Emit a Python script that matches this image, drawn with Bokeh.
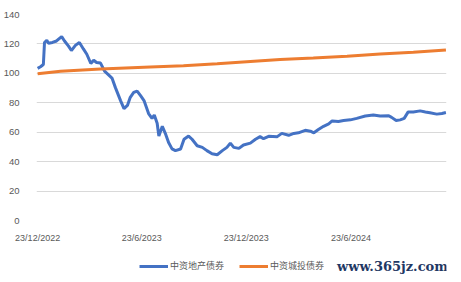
from datetime import datetime
from bokeh.plotting import figure
from bokeh.layouts import column
from bokeh.models import (ColumnDataSource, Range1d, FixedTicker, CustomJSTickFormatter,
                          Legend, LegendItem, Label)
from bokeh.embed import file_html
from bokeh.resources import INLINE

# ---- data ----
property_dates = [
    "2022-12-23", "2022-12-28", "2023-01-02", "2023-01-04", "2023-01-08", "2023-01-11",
    "2023-01-18", "2023-01-25", "2023-02-03", "2023-02-08", "2023-02-15", "2023-02-20",
    "2023-02-27", "2023-03-06", "2023-03-13", "2023-03-19", "2023-03-26", "2023-03-31",
    "2023-04-05", "2023-04-12", "2023-04-19", "2023-04-26", "2023-05-02", "2023-05-08",
    "2023-05-17", "2023-05-23", "2023-05-29", "2023-06-03", "2023-06-09", "2023-06-15",
    "2023-06-21", "2023-06-27", "2023-07-05", "2023-07-11", "2023-07-15", "2023-07-20",
    "2023-07-23", "2023-07-29", "2023-08-04", "2023-08-09", "2023-08-15", "2023-08-21",
    "2023-08-30", "2023-09-05", "2023-09-13", "2023-09-19", "2023-09-28", "2023-10-07",
    "2023-10-15", "2023-10-24", "2023-11-02", "2023-11-11", "2023-11-19", "2023-11-25",
    "2023-12-01", "2023-12-10", "2023-12-18", "2023-12-30", "2024-01-08", "2024-01-16",
    "2024-01-22", "2024-01-31", "2024-02-15", "2024-02-23", "2024-03-06", "2024-03-15",
    "2024-03-23", "2024-04-04", "2024-04-13", "2024-04-19", "2024-04-27", "2024-05-06",
    "2024-05-15", "2024-05-21", "2024-06-01", "2024-06-10", "2024-06-22", "2024-07-03",
    "2024-07-18", "2024-08-01", "2024-08-13", "2024-08-28", "2024-09-02", "2024-09-10",
    "2024-09-17", "2024-09-24", "2024-10-01", "2024-10-10", "2024-10-22", "2024-10-31",
    "2024-11-08", "2024-11-20", "2024-11-29", "2024-12-06",
]
property_values = [
    103.4, 104.5, 106.0, 121.0, 122.5, 120.5,
    121.0, 122.0, 125.0, 122.0, 118.5, 115.5,
    119.0, 121.0, 116.6, 113.0, 106.7, 108.9,
    107.4, 107.0, 101.5, 99.0, 96.8, 90.3,
    81.5, 76.0, 78.2, 83.7, 87.0, 88.0,
    84.8, 81.5, 72.7, 69.4, 71.7, 66.1,
    57.4, 64.0, 58.5, 53.0, 48.7, 47.5,
    48.6, 55.2, 57.4, 55.2, 50.8, 49.7,
    47.5, 45.4, 44.7, 47.5, 49.7, 52.6,
    49.7, 49.0, 51.3, 52.6, 55.2, 57.0,
    55.6, 57.2, 57.0, 59.2, 57.9, 59.2,
    59.6, 61.3, 60.7, 59.6, 61.8, 64.0,
    65.7, 67.7, 67.3, 67.9, 68.4, 69.4,
    71.0, 71.7, 71.0, 71.2, 70.1, 67.9,
    68.4, 69.4, 73.8, 73.8, 74.5, 73.8,
    73.2, 72.3, 72.7, 73.4,
]

lgfv_dates = [
    "2022-12-23", "2023-02-01", "2023-04-12", "2023-07-08", "2023-09-04", "2023-11-02",
    "2023-12-30", "2024-02-20", "2024-04-18", "2024-06-16", "2024-08-13", "2024-10-10",
    "2024-12-06",
]
lgfv_values = [99.7, 101.5, 103.0, 104.4, 105.2, 106.6, 108.1, 109.4, 110.5, 111.7, 113.2, 114.4, 115.9]

series_names = ["中资地产债券", "中资城投债券"]
series_colors = ["#4472C4", "#ED7D31"]
tick_dates = ["2022-12-23", "2023-06-23", "2023-12-23", "2024-06-23"]
y_ticks = [0, 20, 40, 60, 80, 100, 120, 140]
watermark = "www.365jz.com"

to_dt = lambda s: datetime.strptime(s, "%Y-%m-%d")

p = figure(width=461, height=245, output_backend="svg", toolbar_location=None,
           x_axis_type="datetime",
           x_range=Range1d(to_dt("2022-12-21"), to_dt("2024-12-07")),
           y_range=Range1d(0, 140),
           min_border_left=36, min_border_right=15, min_border_top=14, min_border_bottom=18)
p.outline_line_color = None
p.background_fill_color = "white"
p.border_fill_color = "white"

src1 = ColumnDataSource(dict(x=[to_dt(d) for d in property_dates], y=property_values))
src2 = ColumnDataSource(dict(x=[to_dt(d) for d in lgfv_dates], y=lgfv_values))
p.line("x", "y", source=src1, line_color=series_colors[0], line_width=3)
p.line("x", "y", source=src2, line_color=series_colors[1], line_width=3)

# axes
p.yaxis.ticker = FixedTicker(ticks=y_ticks)
p.xaxis.ticker = FixedTicker(ticks=[to_dt(d).timestamp() * 1000 for d in tick_dates])
p.xaxis.formatter = CustomJSTickFormatter(code="""
const d = new Date(tick);
return d.getUTCDate() + "/" + (d.getUTCMonth() + 1) + "/" + d.getUTCFullYear();
""")
for ax in (p.xaxis, p.yaxis):
    ax.axis_line_color = None
    ax.major_tick_line_color = None
    ax.minor_tick_line_color = None
    ax.major_label_text_color = "#595959"
    ax.major_label_text_font = "Liberation Sans"
    ax.major_label_text_font_size = "9.5px"
p.xaxis.major_label_text_font_size = "9px"
p.yaxis.major_label_standoff = 11
p.xaxis.major_label_standoff = 6
p.xgrid.grid_line_color = None
p.ygrid.grid_line_color = "#D9D9D9"
p.ygrid.grid_line_width = 1

# legend strip (own small figure below the chart; its key lines lie outside its view)
q = figure(width=461, height=37, output_backend="svg", toolbar_location=None,
           x_range=Range1d(0, 461), y_range=Range1d(0, 37),
           min_border=0, min_border_left=0, min_border_right=0,
           min_border_top=0, min_border_bottom=0)
q.axis.visible = False
q.grid.visible = False
q.outline_line_color = None
q.background_fill_color = "white"
q.border_fill_color = "white"
d1 = q.line(x=[-100, -90], y=[-100, -100], line_color=series_colors[0], line_width=3)
d2 = q.line(x=[-100, -90], y=[-100, -100], line_color=series_colors[1], line_width=3)
legend = Legend(items=[LegendItem(label=series_names[0], renderers=[d1]),
                       LegendItem(label=series_names[1], renderers=[d2])],
                orientation="horizontal", location=(103, 10),
                label_text_font="Noto Sans CJK SC", label_text_font_size="9px",
                label_text_color="#595959", glyph_width=29, glyph_height=12,
                label_height=12, label_standoff=2, spacing=15, padding=0, margin=0,
                border_line_color=None, background_fill_alpha=0)
q.add_layout(legend, "center")
q.add_layout(Label(x=338, y=16, text=watermark,
                   text_font="DejaVu Serif", text_font_style="bold", text_font_size="13px",
                   text_color="#1F3864", text_baseline="middle"))

open("out.html", "w").write(file_html(column(p, q, spacing=0), INLINE))
